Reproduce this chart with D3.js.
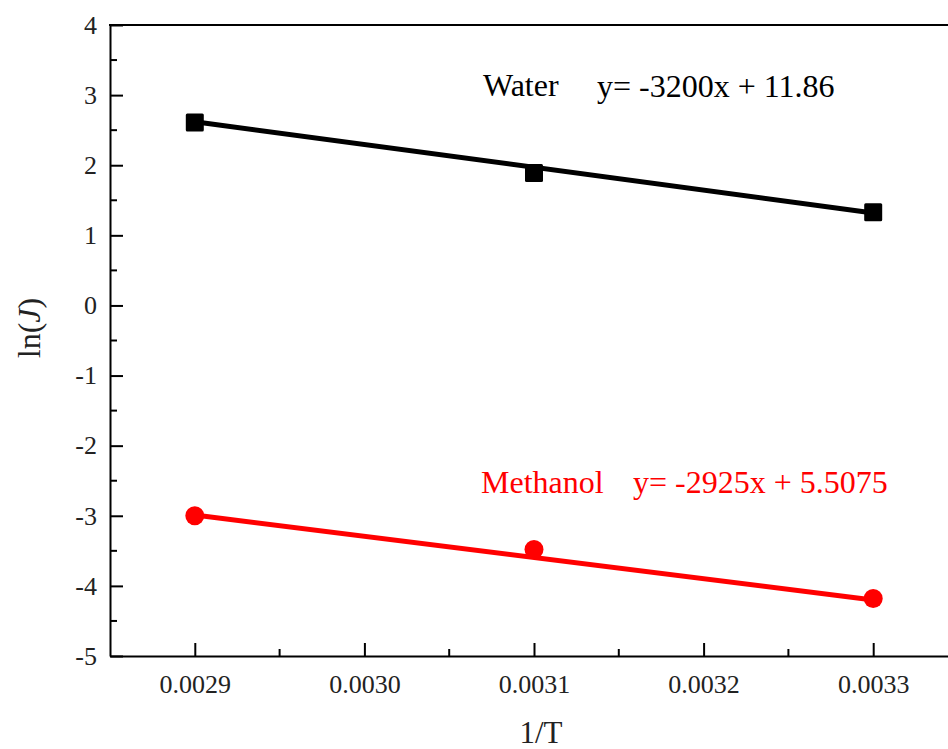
<!DOCTYPE html>
<html><head><meta charset="utf-8">
<script src="https://cdn.jsdelivr.net/npm/d3@7"></script>
<style>html,body{margin:0;padding:0;background:#fff;overflow:hidden}</style>
</head><body>
<svg id="c" width="948" height="749"></svg>
<script>
const xValues = [0.0029, 0.0031, 0.0033];
const waterValues = [2.61, 1.89, 1.33];
const methanolValues = [-3.00, -3.48, -4.18];
const waterFit = [2.62, 1.32];
const methanolFit = [-2.99, -4.20];
const fitX = [0.0029, 0.0033];
const xTicks = [0.0029, 0.0030, 0.0031, 0.0032, 0.0033];
const xTickLabels = ["0.0029", "0.0030", "0.0031", "0.0032", "0.0033"];
const yTicks = [-5, -4, -3, -2, -1, 0, 1, 2, 3, 4];
const yTickLabels = ["-5", "-4", "-3", "-2", "-1", "0", "1", "2", "3", "4"];
const labels = {water: "Water", waterEq: "y= -3200x + 11.86", meth: "Methanol", methEq: "y= -2925x + 5.5075"};

const svg = d3.select("#c");
const L = 110, T = 25, B = 656;
const x = d3.scaleLinear().domain([0.00285, 0.00335]).range([110, 958]);
const y = d3.scaleLinear().domain([-5, 4]).range([B, T]);
const font = "Liberation Serif, Times New Roman, serif";

// axes
const ax = svg.append("g").attr("transform", `translate(0,${B})`)
  .call(d3.axisBottom(x).tickValues(xTicks).tickFormat((d,i)=>xTickLabels[i]).tickSizeInner(-13).tickSizeOuter(0).tickPadding(19));
const ay = svg.append("g").attr("transform", `translate(${L},0)`)
  .call(d3.axisLeft(y).tickValues(yTicks).tickFormat((d,i)=>yTickLabels[i]).tickSizeInner(-13).tickSizeOuter(0).tickPadding(13));
[ax, ay].forEach(g => {
  g.attr("font-family", font).attr("font-size", 26);
  g.select(".domain").attr("stroke", "#000").attr("stroke-width", 2);
  g.selectAll(".tick line").attr("stroke", "#000").attr("stroke-width", 2);
  g.selectAll(".tick text").attr("fill", "#222");
});
// minor ticks
const xMinor = xTicks.slice(0, -1).map((d, i) => (d + xTicks[i + 1]) / 2).concat([0.00335]);
svg.append("g").selectAll("line").data(xMinor).join("line")
  .attr("x1", d => x(d)).attr("x2", d => x(d)).attr("y1", B).attr("y2", B - 7)
  .attr("stroke", "#000").attr("stroke-width", 2);
const yMinor = yTicks.slice(0, -1).map((d, i) => d + 0.5);
svg.append("g").selectAll("line").data(yMinor).join("line")
  .attr("x1", L).attr("x2", L + 7).attr("y1", d => y(d)).attr("y2", d => y(d))
  .attr("stroke", "#000").attr("stroke-width", 2);
// top frame
svg.append("line").attr("x1", L - 1).attr("x2", 960).attr("y1", T).attr("y2", T)
  .attr("stroke", "#000").attr("stroke-width", 2);

// fit lines
const line = d3.line().x(d => x(d[0])).y(d => y(d[1]));
svg.append("path").attr("d", line(fitX.map((d, i) => [d, waterFit[i]])))
  .attr("stroke", "#000").attr("stroke-width", 5).attr("fill", "none");
svg.append("path").attr("d", line(fitX.map((d, i) => [d, methanolFit[i]])))
  .attr("stroke", "#ff0000").attr("stroke-width", 5).attr("fill", "none");

// markers
svg.append("g").selectAll("rect").data(xValues).join("rect")
  .attr("x", d => x(d) - 9).attr("y", (d, i) => y(waterValues[i]) - 9)
  .attr("width", 18).attr("height", 18).attr("rx", 1.5).attr("fill", "#000");
svg.append("g").selectAll("circle").data(xValues).join("circle")
  .attr("cx", d => x(d)).attr("cy", (d, i) => y(methanolValues[i])).attr("r", 9.5)
  .attr("fill", "#ff0000");

// annotations
function txt(xp, yp, s, col, size) {
  return svg.append("text").attr("x", xp).attr("y", yp).text(s)
    .attr("font-family", font).attr("font-size", size).attr("fill", col);
}
txt(483, 96, labels.water, "#000", 32);
txt(597, 97, labels.waterEq, "#000", 32);
txt(481, 493, labels.meth, "#ff0000", 32);
txt(633, 493, labels.methEq, "#ff0000", 32);

// axis titles
svg.append("text").attr("x", 541).attr("y", 743).attr("text-anchor", "middle")
  .attr("font-family", font).attr("font-size", 31).attr("fill", "#222").text("1/T");
const yt = svg.append("text").attr("transform", "translate(40,328) rotate(-90)").attr("text-anchor", "middle")
  .attr("font-family", font).attr("font-size", 32).attr("fill", "#222");
yt.append("tspan").text("ln(");
yt.append("tspan").attr("font-style", "italic").text("J");
yt.append("tspan").text(")");
</script>
</body></html>
